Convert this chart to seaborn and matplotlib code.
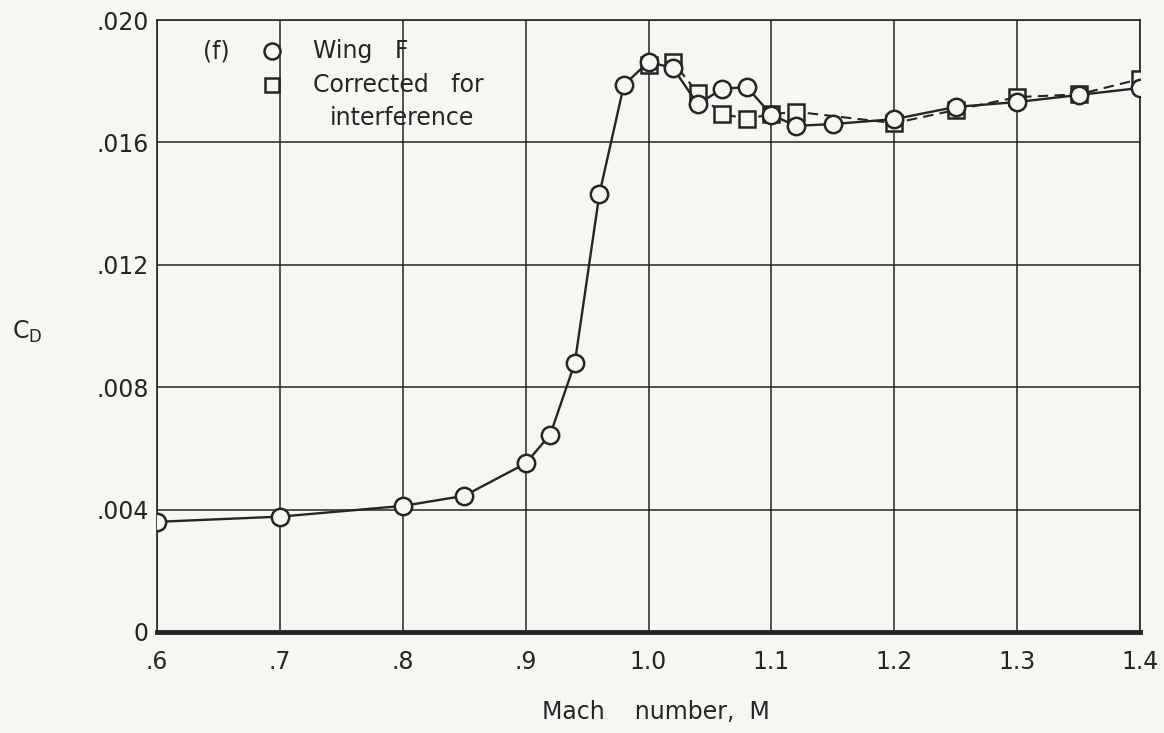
import matplotlib
matplotlib.use("Agg")
import matplotlib.pyplot as plt
import seaborn as sns
import pandas as pd

# Wing F measured drag coefficient
mach_wing = [0.60, 0.70, 0.80, 0.85, 0.90, 0.92, 0.94, 0.96, 0.98, 1.00, 1.02,
             1.04, 1.06, 1.08, 1.10, 1.12, 1.15, 1.20, 1.25, 1.30, 1.35, 1.40]
cd_wing = [0.00360, 0.00377, 0.00412, 0.00445, 0.00551, 0.00645, 0.00879, 0.01431,
           0.01788, 0.01863, 0.01843, 0.01725, 0.01775, 0.01781, 0.01690, 0.01654,
           0.01660, 0.01676, 0.01716, 0.01732, 0.01755, 0.01778]

# Corrected for interference
mach_corr = [1.00, 1.02, 1.04, 1.06, 1.08, 1.10, 1.12, 1.20, 1.25, 1.30, 1.35, 1.40]
cd_corr = [0.01853, 0.01863, 0.01761, 0.01693, 0.01677, 0.01692, 0.01700, 0.01663,
           0.01706, 0.01748, 0.01757, 0.01807]

x_ticks = [0.6, 0.7, 0.8, 0.9, 1.0, 1.1, 1.2, 1.3, 1.4]
x_labels = [".6", ".7", ".8", ".9", "1.0", "1.1", "1.2", "1.3", "1.4"]
y_ticks = [0, 0.004, 0.008, 0.012, 0.016, 0.020]
y_labels = ["0", ".004", ".008", ".012", ".016", ".020"]

ink = "#252525"
bg = "#f6f6f3"
fs = 17

sns.set_style("white")
plt.rcParams['font.family'] = ['DejaVu Sans']

fig = plt.figure(figsize=(11.64, 7.33), dpi=100, facecolor=bg)
ax = fig.add_axes([0.1349, 0.1378, 0.8445, 0.8349])
ax.set_facecolor(bg)

df_wing = pd.DataFrame({'M': mach_wing, 'CD': cd_wing})
df_corr = pd.DataFrame({'M': mach_corr, 'CD': cd_corr})

sns.lineplot(data=df_corr, x='M', y='CD', ax=ax, color=ink, linewidth=1.5,
             linestyle=(0, (5, 3)), marker='s', markersize=11.5,
             markerfacecolor=bg, markeredgecolor=ink, markeredgewidth=1.8, zorder=3)
sns.lineplot(data=df_wing, x='M', y='CD', ax=ax, color=ink, linewidth=1.7,
             marker='o', markersize=12.5,
             markerfacecolor=bg, markeredgecolor=ink, markeredgewidth=1.8, zorder=4)

ax.set_xlim(0.6, 1.4)
ax.set_ylim(0, 0.020)
ax.set_xticks(x_ticks)
ax.set_xticklabels(x_labels, fontsize=fs, color=ink)
ax.set_yticks(y_ticks)
ax.set_yticklabels(y_labels, fontsize=fs, color=ink)
ax.tick_params(length=0)
ax.tick_params(axis='x', pad=13)
ax.tick_params(axis='y', pad=6)
ax.grid(True, color=ink, linewidth=1.1)
ax.set_axisbelow(True)

for side in ['top', 'right', 'left']:
    ax.spines[side].set_color(ink)
    ax.spines[side].set_linewidth(1.2)
ax.spines['bottom'].set_color(ink)
ax.spines['bottom'].set_linewidth(3.5)

ax.set_xlabel("Mach    number,  M", fontsize=fs, color=ink, va='center')
ax.xaxis.set_label_coords(0.507, -0.131)
ax.set_ylabel(r"C$_\mathrm{D}$", fontsize=fs, color=ink, rotation=0, va='center',
              ha='center')
ax.yaxis.set_label_coords(-0.132, 0.49)

# Key in upper left
ax.text(0.060, 0.949, "(f)", transform=ax.transAxes, fontsize=fs, color=ink,
        ha='center', va='center')
ax.plot([0.117], [0.949], transform=ax.transAxes, marker='o', markersize=11.5,
        markerfacecolor=bg, markeredgecolor=ink, markeredgewidth=1.8, linestyle='none')
ax.plot([0.117], [0.894], transform=ax.transAxes, marker='s', markersize=10.5,
        markerfacecolor=bg, markeredgecolor=ink, markeredgewidth=1.8, linestyle='none')
ax.text(0.1587, 0.949, "Wing   F", transform=ax.transAxes, fontsize=fs, color=ink,
        va='center', ha='left')
ax.text(0.1587, 0.894, "Corrected   for", transform=ax.transAxes, fontsize=fs,
        color=ink, va='center', ha='left')
ax.text(0.176, 0.840, "interference", transform=ax.transAxes, fontsize=fs,
        color=ink, va='center', ha='left')

fig.savefig("out.png", dpi=100, facecolor=bg)
